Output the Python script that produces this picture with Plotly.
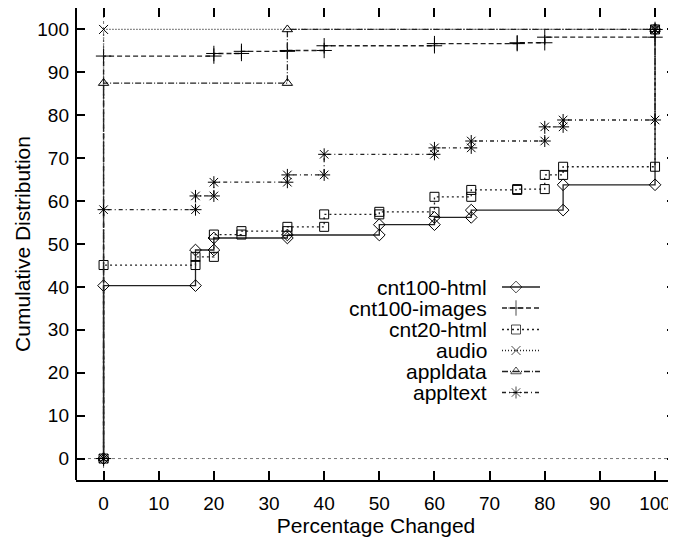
import plotly.graph_objects as go

# ---------------- data ----------------
x_ticks = [0, 10, 20, 30, 40, 50, 60, 70, 80, 90, 100]
y_ticks = [0, 10, 20, 30, 40, 50, 60, 70, 80, 90, 100]

cnt100_html_x = [0, 0, 16.67, 16.67, 20, 20, 33.33, 33.33, 50, 50, 60, 60, 66.67, 66.67, 83.33, 83.33, 100, 100]
cnt100_html_y = [0, 40.3, 40.3, 48.6, 48.6, 51.4, 51.4, 52.1, 52.1, 54.5, 54.5, 56.2, 56.2, 57.9, 57.9, 63.8, 63.8, 100]

cnt100_images_x = [0, 0, 20, 20, 25, 25, 33.33, 33.33, 40, 40, 60, 60, 75, 75, 80, 80, 100, 100]
cnt100_images_y = [0, 93.8, 93.8, 94.4, 94.4, 94.9, 94.9, 95.1, 95.1, 96.2, 96.2, 96.7, 96.7, 96.9, 96.9, 98.2, 98.2, 100]

cnt20_html_x = [0, 0, 16.67, 16.67, 20, 20, 25, 25, 33.33, 33.33, 40, 40, 50, 50, 60, 60, 66.67, 66.67, 75, 75, 80, 80, 83.33, 83.33, 100, 100]
cnt20_html_y = [0, 45.1, 45.1, 47.0, 47.0, 52.2, 52.2, 53.0, 53.0, 54.0, 54.0, 56.9, 56.9, 57.5, 57.5, 61.0, 61.0, 62.6, 62.6, 62.8, 62.8, 66.1, 66.1, 68.0, 68.0, 100]

audio_x = [0, 0, 100]
audio_y = [0, 100, 100]

appldata_x = [0, 0, 33.33, 33.33, 100]
appldata_y = [0, 87.5, 87.5, 100, 100]

appltext_x = [0, 0, 16.67, 16.67, 20, 20, 33.33, 33.33, 40, 40, 60, 60, 66.67, 66.67, 80, 80, 83.33, 83.33, 100, 100]
appltext_y = [0, 58.0, 58.0, 61.2, 61.2, 64.4, 64.4, 66.1, 66.1, 70.9, 70.9, 72.4, 72.4, 74.0, 74.0, 77.3, 77.3, 78.9, 78.9, 100]

series_names = ["cnt100-html", "cnt100-images", "cnt20-html", "audio", "appldata", "appltext"]
series_x = [cnt100_html_x, cnt100_images_x, cnt20_html_x, audio_x, appldata_x, appltext_x]
series_y = [cnt100_html_y, cnt100_images_y, cnt20_html_y, audio_y, appldata_y, appltext_y]

# ---------------- styles ----------------
symbols = ["diamond-open", "cross-thin-open", "square-open", "x-thin-open", "triangle-up-open", "asterisk-open"]
sizes = [9, 11, 9, 9, 9, 10]
dashes = ["solid", "5px,3px", "2px,3px", "1px,2px", "6px,2px,1px,2px", "4px,3px,1px,3px"]
line_color = "#222222"
FONT = "Liberation Sans, Arial, sans-serif"
FS_TICK = 19
FS_TEXT = 21

# page body adds an 8px offset; plot area lands at x 76..676, y 8..480
W, H = 668, 530
ML, MT, MB = 68, 0, 58
PW, PH = W - ML, H - MT - MB

def px_x(px):
    return (px - 8 - ML) / PW

def px_y(py):
    return (H - MB - (py - 8)) / PH

fig = go.Figure()

for name, xs, ys, sym, sz, dsh in zip(series_names, series_x, series_y, symbols, sizes, dashes):
    fig.add_trace(go.Scatter(
        x=xs, y=ys, mode="lines+markers", name=name, showlegend=False,
        line=dict(color=line_color, width=1.3, dash=dsh),
        marker=dict(symbol=sym, size=sz, color="black", line=dict(color="black", width=1)),
        xaxis="x", yaxis="y",
    ))

# ---------------- gnuplot-style key (text left, sample right) ----------------
key_text_x = px_x(489)
key_line_x0 = px_x(502)
key_line_x1 = px_x(540)
key_mark_x = px_x(516)
key_rows_px = [287, 308, 329.5, 350.5, 371.5, 392.5]

for name, sym, sz, dsh, rpx in zip(series_names, symbols, sizes, dashes, key_rows_px):
    yk = px_y(rpx)
    fig.add_trace(go.Scatter(
        x=[key_line_x0, key_mark_x, key_line_x1], y=[yk, yk, yk],
        mode="lines+markers", showlegend=False, hoverinfo="skip",
        line=dict(color=line_color, width=1.3, dash=dsh),
        marker=dict(symbol=sym, size=[0, sz, 0], color="black", line=dict(color="black", width=1)),
        xaxis="x2", yaxis="y2",
    ))
    fig.add_annotation(
        x=key_text_x, y=yk, xref="paper", yref="paper", text=name, showarrow=False,
        xanchor="right", yanchor="middle", font=dict(family=FONT, size=FS_TEXT, color="black"),
    )

# ---------------- frame & zero axes ----------------
fig.add_shape(type="line", xref="paper", yref="y", x0=0, x1=1, y0=0, y1=0,
              line=dict(color="#777777", width=1, dash="dot"), layer="below")
fig.add_shape(type="line", xref="x", yref="paper", x0=0, x1=0, y0=0, y1=1,
              line=dict(color="#777777", width=1, dash="dot"), layer="below")
fig.add_shape(type="line", xref="paper", yref="paper", x0=0, x1=0, y0=0, y1=1,
              line=dict(color="black", width=2))

fig.update_layout(
    width=W, height=H,
    margin=dict(l=ML, r=0, t=MT, b=MB, autoexpand=False),
    paper_bgcolor="white", plot_bgcolor="white",
    font=dict(family=FONT, size=FS_TICK, color="black"),
    xaxis=dict(
        range=[-5, 103.8], tickvals=x_ticks, ticktext=[str(v) for v in x_ticks],
        ticks="inside", ticklen=9, tickwidth=1.5, tickcolor="black",
        showline=True, linewidth=2, linecolor="black", mirror="ticks",
        showgrid=False, zeroline=False, automargin=False,
        title=dict(text="Percentage Changed", font=dict(size=FS_TEXT), standoff=2),
        tickfont=dict(size=FS_TICK), ticklabelstandoff=5,
    ),
    yaxis=dict(
        range=[-5, 105], tickvals=y_ticks, ticktext=[str(v) for v in y_ticks],
        ticks="inside", ticklen=9, tickwidth=1.5, tickcolor="black",
        showline=False, mirror="ticks",
        showgrid=False, zeroline=False, automargin=False,
        title=dict(text="Cumulative Distribution", font=dict(size=FS_TEXT), standoff=0),
        tickfont=dict(size=FS_TICK), ticklabelstandoff=6,
    ),
    xaxis2=dict(overlaying="x", range=[0, 1], visible=False, fixedrange=True),
    yaxis2=dict(overlaying="y", range=[0, 1], visible=False, fixedrange=True),
)

fig.write_html("out.html")
